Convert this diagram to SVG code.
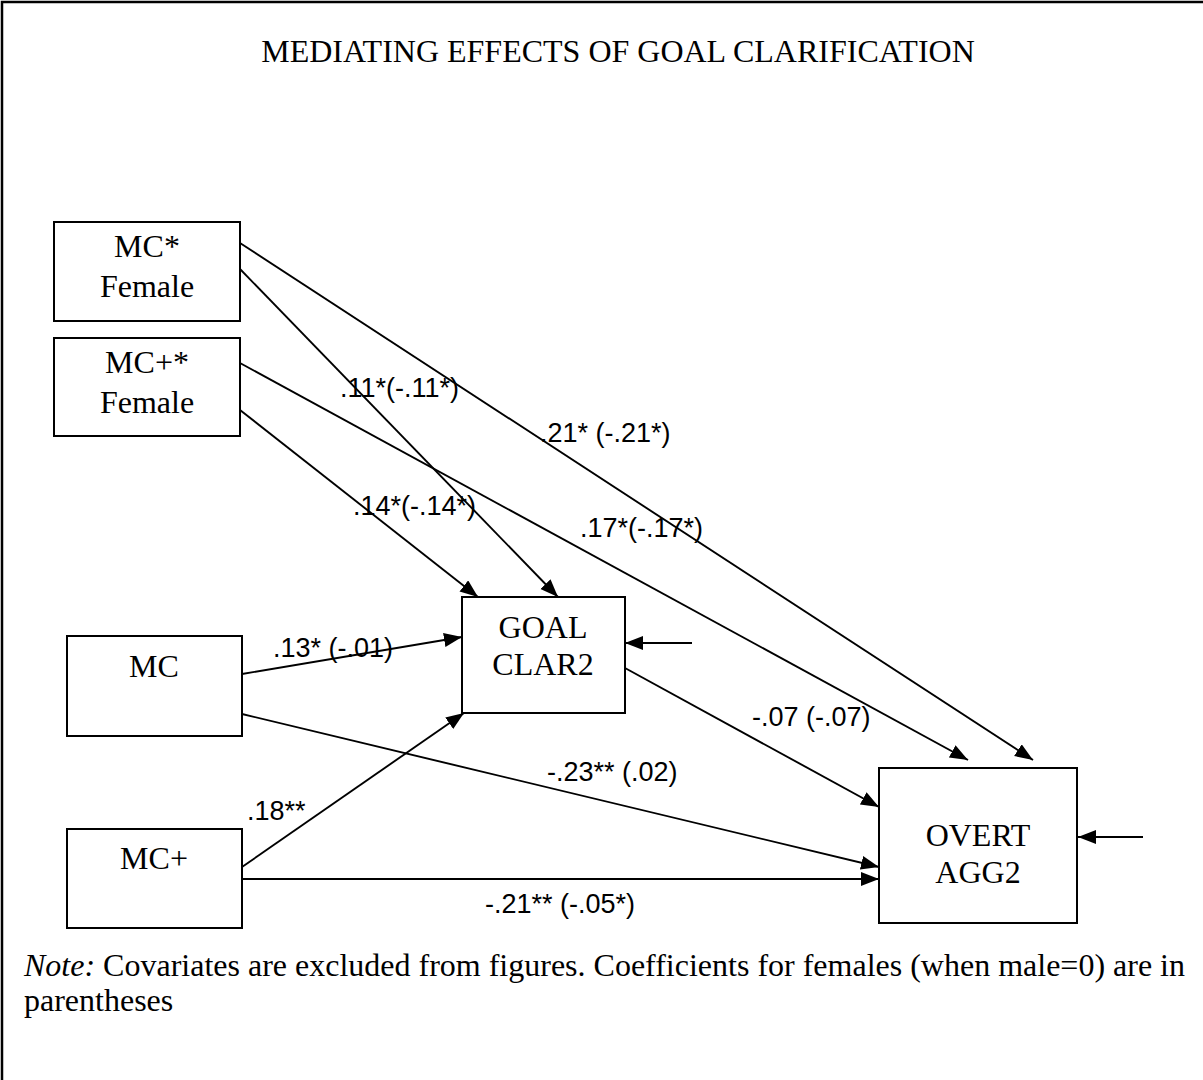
<svg xmlns="http://www.w3.org/2000/svg" width="1203" height="1080" viewBox="0 0 1203 1080">
  <style>
    .box { fill: #ffffff; stroke: #000000; stroke-width: 2; }
    .node { font-family: "Liberation Serif", "Times New Roman", serif; font-size: 32px; fill: #000000; text-anchor: middle; }
    .coef { font-family: "Liberation Sans", Arial, sans-serif; font-size: 27px; fill: #000000; }
    .edge { fill: none; stroke: #000000; stroke-width: 1.9; marker-end: url(#arrow); }
    .serif { font-family: "Liberation Serif", "Times New Roman", serif; fill: #000000; }
  </style>
  <defs>
    <marker id="arrow" markerUnits="userSpaceOnUse" markerWidth="19" markerHeight="15" refX="18" refY="7" orient="auto">
      <path d="M0,0 L18,7 L0,14 z" fill="#000000"/>
    </marker>
  </defs>

  <rect x="0" y="0" width="1203" height="1080" fill="#ffffff"/>
  <!-- outer frame (right and bottom edges run past the canvas) -->
  <rect x="2" y="2" width="1230" height="1110" fill="none" stroke="#000000" stroke-width="2.5"/>

  <text class="serif" x="618" y="62" font-size="32" text-anchor="middle">MEDIATING EFFECTS OF GOAL CLARIFICATION</text>

  <!-- paths between variables -->
  <g id="connectors">
    <line class="edge" x1="240" y1="243" x2="1033" y2="760"/>
    <line class="edge" x1="240" y1="269" x2="558" y2="597"/>
    <line class="edge" x1="240" y1="363" x2="968" y2="760"/>
    <line class="edge" x1="240" y1="410" x2="478" y2="597"/>
    <line class="edge" x1="242" y1="674" x2="462" y2="637"/>
    <line class="edge" x1="242" y1="714" x2="879" y2="867"/>
    <line class="edge" x1="242" y1="867" x2="464" y2="713"/>
    <line class="edge" x1="242" y1="879" x2="879" y2="879"/>
    <line class="edge" x1="625" y1="668" x2="879" y2="807"/>
    <line class="edge" x1="692" y1="643" x2="625" y2="643"/>
    <line class="edge" x1="1143" y1="837" x2="1078" y2="837"/>

    <text class="coef" x="340" y="397">.11*(-.11*)</text>
    <text class="coef" x="540" y="442">.21* (-.21*)</text>
    <text class="coef" x="353" y="515">.14*(-.14*)</text>
    <text class="coef" x="580" y="537">.17*(-.17*)</text>
    <text class="coef" x="273" y="657">.13* (-.01)</text>
    <text class="coef" x="247" y="820">.18**</text>
    <text class="coef" x="752" y="726">-.07 (-.07)</text>
    <text class="coef" x="547" y="781">-.23** (.02)</text>
    <text class="coef" x="485" y="913">-.21** (-.05*)</text>
  </g>

  <g id="mc-female">
    <rect class="box" x="54" y="222" width="186" height="99"/>
    <text class="node" x="147" y="257">MC*</text>
    <text class="node" x="147" y="297">Female</text>
  </g>
  <g id="mcplus-female">
    <rect class="box" x="54" y="338" width="186" height="98"/>
    <text class="node" x="147" y="373">MC+*</text>
    <text class="node" x="147" y="413">Female</text>
  </g>
  <g id="mc">
    <rect class="box" x="67" y="636" width="175" height="100"/>
    <text class="node" x="154" y="677">MC</text>
  </g>
  <g id="mcplus">
    <rect class="box" x="67" y="829" width="175" height="99"/>
    <text class="node" x="154" y="869">MC+</text>
  </g>
  <g id="goal-clar2">
    <rect class="box" x="462" y="597" width="163" height="116"/>
    <text class="node" x="543" y="638">GOAL</text>
    <text class="node" x="543" y="675">CLAR2</text>
  </g>
  <g id="overt-agg2">
    <rect class="box" x="879" y="768" width="198" height="155"/>
    <text class="node" x="978" y="846">OVERT</text>
    <text class="node" x="978" y="883">AGG2</text>
  </g>

  <text class="serif" x="24" y="976" font-size="32"><tspan font-style="italic">Note:</tspan> Covariates are excluded from figures. Coefficients for females (when male=0) are in</text>
  <text class="serif" x="24" y="1011" font-size="32">parentheses</text>
</svg>
